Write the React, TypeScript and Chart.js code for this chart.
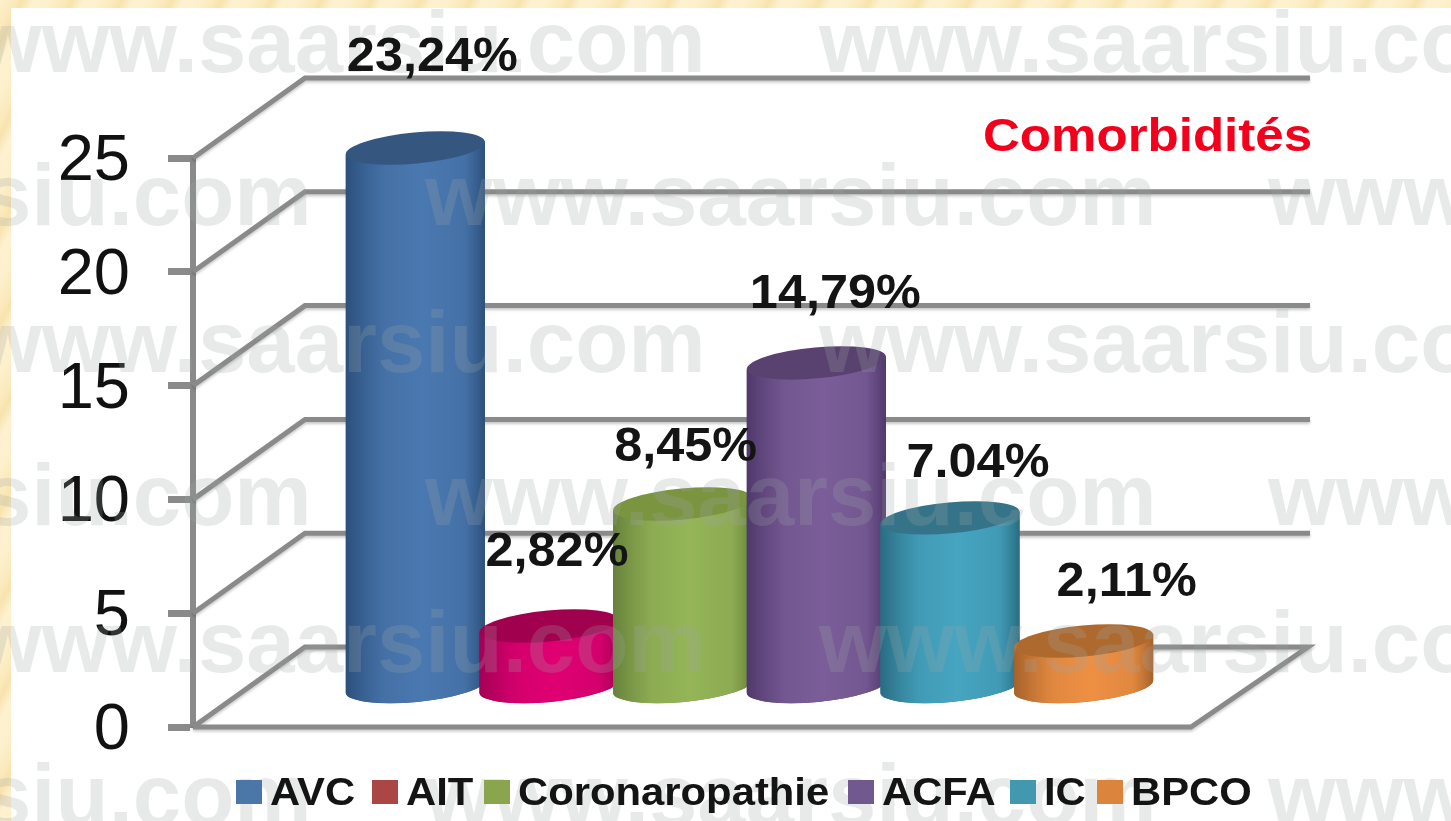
import React, { useEffect, useRef } from "react";
import { Chart, registerables } from "chart.js";

Chart.register(...registerables);

const categories = ["AVC", "AIT", "Coronaropathie", "ACFA", "IC", "BPCO"];
// Heights of the cylinders as read against the axis (the printed labels differ slightly)
const plottedValues = [23.68, 2.68, 8.04, 14.24, 7.43, 2.02];
const valueLabels = ["23,24%", "2,82%", "8,45%", "14,79%", "7.04%", "2,11%"];
const yTicks = [0, 5, 10, 15, 20, 25];
const chartTitle = "Comorbidités";
const watermark = "www.saarsiu.com";

const legendColors = ["#4a76a8", "#aa4643", "#89a54e", "#71588f", "#4198af", "#db843d"];
const edgeColors = ["#2c507c", "#a30056", "#66813a", "#4f386b", "#296c82", "#a5622a"];
const midColors = ["#4a78b0", "#e00072", "#95b558", "#7b5e99", "#46a5c1", "#ee9044"];
const topColors = ["#35577f", "#a1004f", "#7b9440", "#5a4270", "#357389", "#ae6a2e"];

const labelDx = [17, 8, 3, 19, 28, 43];
const labelBaselines = [71, 566, 461, 308, 477, 596];
const legendStarts = [236, 372, 484, 848, 1010, 1097];

const FONT = '"Liberation Sans", Arial, sans-serif';
const GRID = "#8a8a8a";
const DEPTH_X = 112;
const DEPTH_Y = 80;
const BAR_DX = 57.5;
const BAR_DY = 40;
const TILT = (-5.3 * Math.PI) / 180;

function stretchedText(ctx: any, text: string, x: number, y: number, font: string, color: string, sx: number) {
  ctx.save();
  ctx.font = font;
  ctx.fillStyle = color;
  ctx.textAlign = "left";
  ctx.textBaseline = "alphabetic";
  ctx.translate(x, y);
  ctx.scale(sx, 1);
  ctx.fillText(text, 0, 0);
  ctx.restore();
}

const scenePlugin = {
  id: "scene",
  beforeDraw(chart: any) {
    // nudge the axis numbers down a little, as in the picture
    const items = chart.scales.y.getLabelItems(chart.chartArea);
    if (!items._nudged) {
      items.forEach((it: any) => {
        it.options.translation[1] += 4;
      });
      items._nudged = true;
    }
  },
  beforeDatasetsDraw(chart: any) {
    const { ctx, chartArea, scales } = chart;
    const y = scales.y;
    const left = chartArea.left;
    ctx.save();
    ctx.strokeStyle = GRID;
    ctx.lineWidth = 5;
    ctx.lineJoin = "miter";
    ctx.shadowColor = "rgba(0,0,0,0.22)";
    ctx.shadowBlur = 3;
    ctx.shadowOffsetY = 2;
    yTicks.forEach((t) => {
      const py = y.getPixelForValue(t);
      ctx.beginPath();
      ctx.moveTo(left, py);
      ctx.lineTo(left + DEPTH_X, py - DEPTH_Y);
      ctx.lineTo(t === 0 ? chartArea.right + DEPTH_X + 5 : left + 1117, py - DEPTH_Y);
      if (t === 0) {
        ctx.lineTo(chartArea.right, py);
        ctx.lineTo(left, py);
      }
      ctx.stroke();
    });
    ctx.restore();
  },
  beforeDatasetDraw() {
    return false;
  },
  afterDatasetsDraw(chart: any) {
    const { ctx } = chart;
    chart.data.datasets.forEach((_: any, i: number) => {
      const el = chart.getDatasetMeta(i).data[0];
      const cx = el.x + BAR_DX;
      const top = el.y - BAR_DY;
      const bottom = el.base - BAR_DY;
      const a = (el.width * 1.045) / 2;
      const b = 15.5;
      const ex = a * Math.cos(TILT);
      const ey = a * Math.sin(TILT);
      const body = ctx.createLinearGradient(cx - ex, 0, cx + ex, 0);
      body.addColorStop(0, edgeColors[i]);
      body.addColorStop(0.28, midColors[i] + "d0");
      body.addColorStop(0.55, midColors[i]);
      body.addColorStop(0.85, midColors[i] + "d0");
      body.addColorStop(1, edgeColors[i]);
      ctx.save();
      ctx.beginPath();
      ctx.moveTo(cx - ex, top - ey);
      ctx.lineTo(cx - ex, bottom - ey);
      ctx.ellipse(cx, bottom, a, b, TILT, Math.PI, 0, true);
      ctx.lineTo(cx + ex, top + ey);
      ctx.closePath();
      ctx.fillStyle = edgeColors[i];
      ctx.fill();
      ctx.fillStyle = body;
      ctx.fill();
      ctx.beginPath();
      ctx.ellipse(cx, top, a, b, TILT, 0, Math.PI * 2);
      ctx.fillStyle = topColors[i];
      ctx.fill();
      ctx.restore();
    });

    // Watermark rows, over the marks
    ctx.save();
    ctx.font = `bold 87px ${FONT}`;
    ctx.fillStyle = "rgba(157,165,165,0.235)";
    ctx.textBaseline = "alphabetic";
    ctx.textAlign = "left";
    [72, 372, 672].forEach((py) => [-26, 819].forEach((px) => ctx.fillText(watermark, px, py)));
    [225, 525, 825].forEach((py) => [-420, 425, 1268].forEach((px) => ctx.fillText(watermark, px, py)));
    ctx.restore();
  },
  afterDraw(chart: any) {
    const { ctx } = chart;
    // Value labels
    chart.data.datasets.forEach((_: any, i: number) => {
      const el = chart.getDatasetMeta(i).data[0];
      const font = `bold 48px ${FONT}`;
      ctx.save();
      ctx.font = font;
      const w = ctx.measureText(valueLabels[i]).width * 1.05;
      ctx.restore();
      stretchedText(ctx, valueLabels[i], el.x + BAR_DX + labelDx[i] - w / 2, labelBaselines[i], font, "#141414", 1.05);
    });
    // Title
    stretchedText(ctx, chartTitle, 983, 151, `bold 46px ${FONT}`, "#f2001c", 1.11);
    // Legend
    const legendFont = `bold 38px ${FONT}`;
    chart.data.datasets.forEach((ds: any, i: number) => {
      const lx = legendStarts[i];
      ctx.save();
      ctx.fillStyle = legendColors[i];
      ctx.fillRect(lx, 780, 26, 24);
      ctx.restore();
      stretchedText(ctx, ds.label, lx + 34, 805, legendFont, "#141414", 1.1);
    });
  },
};

export default function App() {
  const ref = useRef<HTMLCanvasElement | null>(null);
  useEffect(() => {
    const chart = new Chart(ref.current as any, {
      type: "bar",
      data: {
        labels: [""],
        datasets: categories.map((name, i) => ({
          label: name,
          data: [plottedValues[i]],
          backgroundColor: legendColors[i],
          categoryPercentage: 0.8036,
          barPercentage: 1,
        })),
      },
      options: {
        animation: false,
        responsive: false,
        layout: { padding: { left: 0, top: 158, right: 260, bottom: 94 } },
        plugins: { legend: { display: false }, title: { display: false }, tooltip: { enabled: false } },
        scales: {
          x: { display: false, stacked: false },
          y: {
            min: 0,
            max: 25,
            afterFit: (s: any) => {
              s.width = 193;
            },
            ticks: {
              stepSize: 5,
              padding: 38,
              color: "#111",
              font: { family: FONT, size: 65 },
            },
            grid: {
              drawOnChartArea: false,
              drawTicks: true,
              tickLength: 25,
              tickWidth: 7,
              tickColor: GRID,
            },
            border: { color: GRID, width: 6 },
          },
        },
      } as any,
      plugins: [scenePlugin as any],
    });
    return () => chart.destroy();
  }, []);

  return (
    <div
      style={{
        position: "absolute",
        left: 0,
        top: 0,
        width: 1451,
        height: 821,
        overflow: "hidden",
        background:
          "repeating-linear-gradient(118deg,#fdf0cc 0px,#fbe9bb 14px,#f8e3ac 20px,#fdf1d0 30px,#fdf0cc 44px)",
      }}
    >
      <div style={{ position: "absolute", left: 11, top: 8, width: 1440, height: 813, background: "#fff" }} />
      <canvas
        ref={ref}
        width={1451}
        height={821}
        style={{ position: "absolute", left: 0, top: 0, display: "block", filter: "blur(0.7px)" }}
      />
    </div>
  );
}
